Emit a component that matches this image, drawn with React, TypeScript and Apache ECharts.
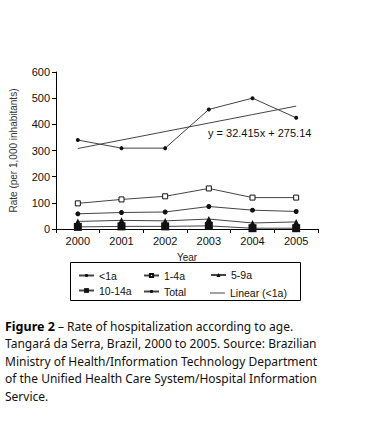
import React, { useEffect, useRef } from "react";
import * as echarts from "echarts";

const years = ["2000", "2001", "2002", "2003", "2004", "2005"];
const under1 = [340, 309, 309, 457, 500, 425];
const age1to4 = [98, 113, 125, 155, 120, 120];
const age5to9 = [29, 33, 31, 38, 23, 27];
const age10to14 = [8, 10, 10, 12, 3, 3];
const total = [58, 63, 65, 86, 72, 67];
const linearUnder1 = [307.6, 340.0, 372.4, 404.8, 437.2, 469.6];
const yTicks = [0, 100, 200, 300, 400, 500, 600];
const equationText = "y = 32.415x + 275.14";
const captionLines = [
  "{b|Figure 2} – Rate of hospitalization according to age.",
  "Tangará da Serra, Brazil, 2000 to 2005. Source: Brazilian",
  "Ministry of Health/Information Technology Department",
  "of the Unified Health Care System/Hospital Information",
  "Service.",
];

const FONT = "'Liberation Sans', Arial, sans-serif";
const CAP_FONT = "'Noto Sans', 'DejaVu Sans', sans-serif";

export default function App() {
  const ref = useRef<HTMLDivElement>(null);
  useEffect(() => {
    const chart = echarts.init(ref.current!, null, { renderer: "svg" });
    const lineCol = "#444";
    const mk = "#111";
    const seriesDefs = [
      { name: "<1a", data: under1, symbol: "circle", symbolSize: 4 },
      { name: "1-4a", data: age1to4, symbol: "rect", symbolSize: 5, open: true },
      { name: "5-9a", data: age5to9, symbol: "triangle", symbolSize: 6 },
      { name: "10-14a", data: age10to14, symbol: "rect", symbolSize: 8 },
      { name: "Total", data: total, symbol: "circle", symbolSize: 5 },
    ];
    const series: any[] = seriesDefs.map((s) => ({
      type: "line",
      name: s.name,
      data: s.data,
      symbol: s.symbol,
      symbolSize: s.symbolSize,
      showAllSymbol: true,
      lineStyle: { color: lineCol, width: 1 },
      itemStyle: s.open
        ? { color: "#fff", borderColor: mk, borderWidth: 1 }
        : { color: mk, borderColor: mk, borderWidth: 0 },
      emphasis: { disabled: true },
    }));
    series.push({
      type: "line",
      name: "Linear (<1a)",
      data: linearUnder1,
      symbol: "none",
      lineStyle: { color: lineCol, width: 1 },
      itemStyle: { color: lineCol },
      emphasis: { disabled: true },
    });
    const legendPos = [
      { name: "<1a", left: 78, top: 270, h: 4 },
      { name: "1-4a", left: 143, top: 270, h: 4 },
      { name: "5-9a", left: 210, top: 269.5, h: 5 },
      { name: "10-14a", left: 78, top: 285, h: 6 },
      { name: "Total", left: 143, top: 286, h: 4 },
      { name: "Linear (<1a)", left: 210, top: 287.5, h: 1, line: true },
    ];
    chart.setOption({
      animation: false,
      grid: { left: 52, right: 50, top: 72, bottom: 192 },
      xAxis: {
        type: "category",
        data: years,
        boundaryGap: true,
        name: "Year",
        nameLocation: "middle",
        nameGap: 23,
        nameTextStyle: { fontFamily: FONT, fontSize: 10, color: "#222" },
        axisLine: { lineStyle: { color: "#000", width: 1 } },
        axisTick: { show: true, inside: false, length: 4, lineStyle: { color: "#000" } },
        axisLabel: { fontFamily: FONT, fontSize: 11, color: "#111", margin: 6 },
      },
      yAxis: {
        type: "value",
        min: yTicks[0],
        max: yTicks[yTicks.length - 1],
        interval: 100,
        name: "Rate (per 1,000 inhabitants)",
        nameLocation: "middle",
        nameGap: 38,
        nameRotate: 90,
        nameTextStyle: { fontFamily: FONT, fontSize: 10, color: "#333" },
        splitLine: { show: false },
        axisLine: { show: true, lineStyle: { color: "#000", width: 1 } },
        axisTick: { show: true, length: 4, lineStyle: { color: "#000" } },
        axisLabel: { fontFamily: FONT, fontSize: 11, color: "#111", margin: 6 },
      },
      legend: legendPos.map((l) => ({
        data: [l.line ? { name: l.name, icon: "rect" } : l.name],
        left: l.left,
        top: l.top,
        padding: 0,
        itemWidth: 15,
        itemHeight: l.h,
        selectedMode: false,
        textStyle: { fontFamily: FONT, fontSize: 10.5, color: "#111" },
      })),
      series,
      graphic: [
        {
          type: "rect",
          shape: { x: 70.5, y: 262.5, width: 230, height: 38 },
          style: { fill: "none", stroke: "#000", lineWidth: 1 },
          silent: true,
        },
        {
          type: "text",
          x: 208,
          y: 133,
          style: {
            text: equationText,
            fontFamily: FONT,
            fontSize: 11,
            fill: "#111",
            verticalAlign: "middle",
          },
        },
        ...captionLines.map((t, i) => ({
          type: "text",
          x: 5,
          y: 326 + i * 17.6,
          style: {
            text: t,
            fontFamily: CAP_FONT,
            fontSize: 12,
            fill: "#111",
            verticalAlign: "middle",
            rich: {
              b: { fontFamily: CAP_FONT, fontSize: 12.5, fontWeight: "bold", fill: "#000" },
            },
          },
        })),
      ],
    });
    return () => chart.dispose();
  }, []);
  return (
    <div
      ref={ref}
      style={{ position: "absolute", left: 0, top: 0, width: 368, height: 421, background: "#fff" }}
    />
  );
}
